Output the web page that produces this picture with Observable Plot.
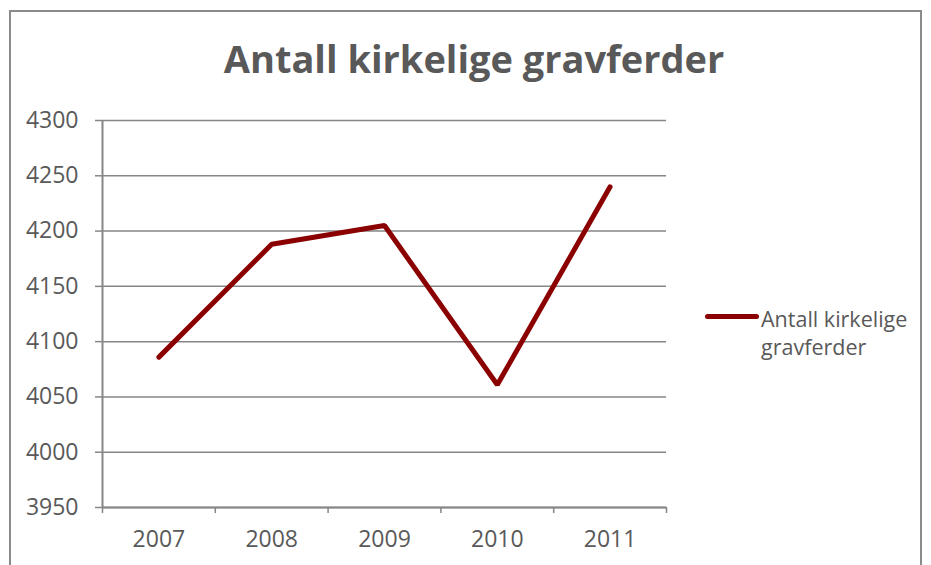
<!DOCTYPE html>
<html>
<head>
<meta charset="utf-8">
<script src="https://cdn.jsdelivr.net/npm/d3@7"></script>
<script src="https://cdn.jsdelivr.net/npm/@observablehq/plot@0.6"></script>
<style>
  html, body { margin: 0; padding: 0; background: #fff; overflow: hidden; }
  #wrap { position: relative; width: 931px; height: 565px; font-family: "Open Sans", sans-serif; }
  #border { position: absolute; left: 9px; top: 10px; width: 913px; height: 620px; border: 2px solid #8a8a8a; box-sizing: border-box; }
  #title { position: absolute; left: 0; width: 948px; top: 32px; text-align: center; font-weight: 700; font-size: 38px; color: #595959; white-space: nowrap; }
  #legend { position: absolute; left: 705px; top: 305px; color: #595959; font-size: 21.5px; line-height: 28px; }
  #legend .sw { position: absolute; left: 0; top: 8.5px; width: 54px; height: 5px; border-radius: 3px; background: #8b0000; }
  #legend .tx { margin-left: 56px; white-space: nowrap; }
  #chart { position: absolute; left: 0; top: 0; }
</style>
</head>
<body>
<div id="wrap">
  <div id="border"></div>
  <div id="chart"></div>
  <div id="title">Antall kirkelige gravferder</div>
  <div id="legend"><div class="sw"></div><div class="tx">Antall kirkelige<br>gravferder</div></div>
</div>
<script>
const years = [2007, 2008, 2009, 2010, 2011];
const values = [4086, 4188, 4205, 4061, 4240];
const yTicks = [3950, 4000, 4050, 4100, 4150, 4200, 4250, 4300];

const data = years.map((y, i) => ({year: y, value: values[i]}));
const bounds = years.map(y => y - 0.5).concat([years[years.length - 1] + 0.5]);
const yMin = yTicks[0], yMax = yTicks[yTicks.length - 1];
const axisColor = "#868686";
const textColor = "#595959";

const chart = Plot.plot({
  width: 931,
  height: 565,
  marginLeft: 102,
  marginRight: 265,
  marginTop: 120,
  marginBottom: 58,
  style: {fontFamily: "'Open Sans', sans-serif", color: textColor, background: "transparent", overflow: "visible"},
  x: {domain: [bounds[0], bounds[bounds.length - 1]]},
  y: {domain: [yMin, yMax]},
  marks: [
    Plot.gridY(yTicks, {stroke: axisColor, strokeOpacity: 1, strokeWidth: 1.5}),
    Plot.axisY({ticks: yTicks, tickSize: 7, tickPadding: 17, tickFormat: d => String(d), fontSize: 23, stroke: axisColor, strokeWidth: 1.5, fill: textColor, label: null}),
    Plot.axisX({ticks: bounds, tickSize: 6, tickFormat: () => "", stroke: axisColor, strokeWidth: 1.5, label: null}),
    Plot.axisX({ticks: years, tickSize: 0, tickPadding: 23, tickFormat: d => String(d), fontSize: 23, fill: textColor, label: null}),
    Plot.ruleX([bounds[0]], {stroke: axisColor, strokeWidth: 2}),
    Plot.ruleY([yMin], {stroke: axisColor, strokeWidth: 2}),
    Plot.line(data, {x: "year", y: "value", stroke: "#8b0000", strokeWidth: 5, strokeLinecap: "round", strokeLinejoin: "miter"})
  ]
});
document.getElementById("chart").appendChild(chart);
</script>
</body>
</html>
